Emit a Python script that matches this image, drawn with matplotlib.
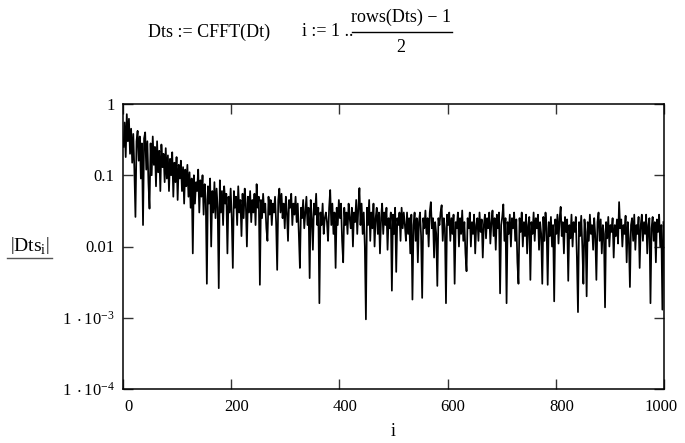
import numpy as np
import matplotlib.pyplot as plt
import matplotlib.transforms as mtransforms
from matplotlib.lines import Line2D

plt.rcParams['font.family'] = ['Liberation Serif', 'DejaVu Serif']
plt.rcParams['mathtext.fontset'] = 'custom'
plt.rcParams['mathtext.rm'] = 'Liberation Serif'
plt.rcParams['mathtext.it'] = 'Liberation Serif:italic'

# |Dts_i|, one value per odd i (1, 3, ..., 999)
idx = np.arange(1, 1000, 2)
dts_mag = [
    0.25, 0.55, 0.18, 0.72, 0.3, 0.62, 0.2, 0.45, 0.15, 0.38, 0.12, 0.026, 0.3, 0.42, 0.16, 0.35, 0.09, 0.28, 0.02, 0.33,
    0.4, 0.12, 0.3, 0.08, 0.034, 0.28, 0.1, 0.35, 0.14, 0.25, 0.07, 0.3, 0.11, 0.22, 0.06, 0.27, 0.13, 0.2, 0.08, 0.24,
    0.09, 0.19, 0.06, 0.17, 0.1, 0.21, 0.05, 0.15, 0.08, 0.18, 0.045, 0.14, 0.09, 0.16, 0.06, 0.13, 0.04, 0.12, 0.07, 0.14,
    0.05, 0.11, 0.035, 0.09, 0.008, 0.1, 0.04, 0.08, 0.06, 0.12, 0.03, 0.085, 0.05, 0.1, 0.028, 0.075, 0.045, 0.003, 0.07, 0.04,
    0.09, 0.01, 0.06, 0.03, 0.08, 0.025, 0.065, 0.035, 0.0026, 0.085, 0.03, 0.06, 0.02, 0.07, 0.04, 0.055, 0.008, 0.05, 0.03, 0.065,
    0.025, 0.005, 0.06, 0.035, 0.05, 0.02, 0.07, 0.03, 0.045, 0.014, 0.055, 0.025, 0.065, 0.04, 0.01, 0.05, 0.03, 0.06, 0.022, 0.045,
    0.03, 0.055, 0.02, 0.075, 0.035, 0.05, 0.0029, 0.045, 0.025, 0.055, 0.03, 0.04, 0.018, 0.012, 0.05, 0.028, 0.045, 0.02, 0.04, 0.03,
    0.05, 0.022, 0.0047, 0.045, 0.065, 0.03, 0.055, 0.025, 0.04, 0.018, 0.05, 0.03, 0.012, 0.045, 0.035, 0.055, 0.02, 0.04, 0.028, 0.05,
    0.022, 0.04, 0.015, 0.005, 0.035, 0.025, 0.045, 0.018, 0.03, 0.05, 0.02, 0.035, 0.0036, 0.045, 0.025, 0.009, 0.04, 0.028, 0.055, 0.02,
    0.035, 0.0016, 0.03, 0.02, 0.04, 0.015, 0.025, 0.03, 0.022, 0.012, 0.035, 0.062, 0.02, 0.04, 0.015, 0.03, 0.005, 0.035, 0.02, 0.045,
    0.025, 0.04, 0.012, 0.006, 0.035, 0.02, 0.03, 0.015, 0.04, 0.025, 0.018, 0.035, 0.01, 0.03, 0.022, 0.045, 0.015, 0.035, 0.066, 0.02,
    0.04, 0.015, 0.03, 0.01, 0.00095, 0.035, 0.02, 0.045, 0.012, 0.03, 0.018, 0.04, 0.01, 0.025, 0.035, 0.015, 0.03, 0.008, 0.025, 0.04,
    0.015, 0.03, 0.02, 0.035, 0.009, 0.025, 0.018, 0.03, 0.0024, 0.028, 0.015, 0.035, 0.0044, 0.025, 0.02, 0.03, 0.012, 0.035, 0.018, 0.03,
    0.02, 0.012, 0.03, 0.015, 0.025, 0.008, 0.028, 0.0018, 0.02, 0.03, 0.012, 0.025, 0.006, 0.022, 0.03, 0.014, 0.0019, 0.025, 0.018, 0.032,
    0.015, 0.025, 0.01, 0.03, 0.042, 0.018, 0.025, 0.007, 0.022, 0.015, 0.0028, 0.025, 0.02, 0.03, 0.038, 0.012, 0.025, 0.018, 0.0016, 0.028,
    0.02, 0.03, 0.012, 0.025, 0.015, 0.028, 0.003, 0.022, 0.018, 0.03, 0.01, 0.025, 0.015, 0.032, 0.012, 0.022, 0.008, 0.0045, 0.025, 0.018,
    0.03, 0.01, 0.022, 0.015, 0.028, 0.008, 0.02, 0.025, 0.012, 0.03, 0.016, 0.024, 0.007, 0.02, 0.028, 0.013, 0.025, 0.018, 0.03, 0.011,
    0.022, 0.032, 0.014, 0.025, 0.009, 0.028, 0.018, 0.03, 0.0022, 0.02, 0.026, 0.039, 0.012, 0.025, 0.0016, 0.022, 0.015, 0.028, 0.01, 0.025,
    0.018, 0.03, 0.012, 0.024, 0.006, 0.003, 0.025, 0.016, 0.03, 0.01, 0.022, 0.014, 0.028, 0.008, 0.02, 0.026, 0.0034, 0.022, 0.015, 0.03,
    0.012, 0.025, 0.018, 0.028, 0.009, 0.022, 0.015, 0.003, 0.026, 0.012, 0.03, 0.018, 0.0029, 0.022, 0.014, 0.026, 0.01, 0.02, 0.0017, 0.024,
    0.015, 0.028, 0.011, 0.025, 0.036, 0.014, 0.022, 0.008, 0.026, 0.016, 0.024, 0.0033, 0.02, 0.013, 0.028, 0.01, 0.022, 0.016, 0.026, 0.007,
    0.0012, 0.022, 0.014, 0.027, 0.01, 0.003, 0.024, 0.016, 0.002, 0.022, 0.012, 0.028, 0.015, 0.02, 0.009, 0.025, 0.014, 0.0034, 0.022, 0.03,
    0.012, 0.024, 0.008, 0.02, 0.015, 0.0014, 0.022, 0.013, 0.026, 0.01, 0.02, 0.016, 0.025, 0.007, 0.02, 0.014, 0.024, 0.011, 0.042, 0.018,
    0.024, 0.01, 0.02, 0.015, 0.027, 0.006, 0.022, 0.013, 0.0027, 0.02, 0.025, 0.012, 0.028, 0.009, 0.02, 0.015, 0.026, 0.005, 0.02, 0.028,
    0.012, 0.022, 0.015, 0.028, 0.008, 0.02, 0.025, 0.0016, 0.018, 0.026, 0.012, 0.022, 0.006, 0.024, 0.016, 0.028, 0.01, 0.02, 0.0013, 0.022,
]

x_ticks = [0, 200, 400, 600, 800, 1000]
y_ticks = [1e-4, 1e-3, 1e-2, 1e-1, 1]
y_labels = [r'$\mathregular{1\ \cdot 10^{-4}}$', r'$\mathregular{1\ \cdot 10^{-3}}$', '0.01', '0.1', '1']

fig = plt.figure(figsize=(6.85, 4.43), dpi=100)
ax = fig.add_axes([123 / 685, 1 - 389 / 443, (664 - 123) / 685, (389 - 104) / 443])

ax.plot(idx, dts_mag, color='black', lw=1.25)
ax.set_yscale('log')
ax.set_xlim(0, 1000)
ax.set_ylim(1e-4, 1)

ax.set_xticks(x_ticks)
ax.set_xticklabels([str(t) for t in x_ticks])
ax.set_yticks(y_ticks)
ax.set_yticklabels(y_labels)
ax.yaxis.set_minor_locator(plt.NullLocator())
ax.tick_params(direction='in', length=7.5, width=1.0, color='#333333',
               top=True, right=True, labelsize=12, pad=6)
ax.tick_params(axis='x', pad=7)

# Mathcad puts the x labels a few pixels right of the tick
for lab, t in zip(ax.get_xticklabels(), x_ticks):
    dx = 4 / 72 if t < 1000 else -2 / 72
    lab.set_transform(lab.get_transform() + mtransforms.ScaledTranslation(dx, 0, fig.dpi_scale_trans))

for s in ax.spines.values():
    s.set_linewidth(1.1)

fig.text(393 / 685, 1 - 431 / 443, 'i', fontsize=13, ha='center', va='center')

# y label with the Mathcad underline
fig.text(30 / 685, 1 - 246 / 443, r'$\left|\mathrm{Dts}_{\mathrm{i}}\right|$', fontsize=14, ha='center', va='center')
fig.add_artist(Line2D([7 / 685, 52 / 685], [1 - 258 / 443, 1 - 258 / 443], color='#555555', lw=1.0))

# formula line above the plot
fig.text(148 / 685, 1 - 32 / 443, 'Dts := CFFT(Dt)', fontsize=13, ha='left', va='center')
fig.text(302 / 685, 1 - 32 / 443, 'i := 1 ..', fontsize=13, ha='left', va='center')
fig.text(401 / 685, 1 - 17 / 443, 'rows(Dts) \u2212 1', fontsize=13, ha='center', va='center')
fig.add_artist(Line2D([352 / 685, 452 / 685], [1 - 32 / 443, 1 - 32 / 443], color='black', lw=1.0))
fig.text(401 / 685, 1 - 48 / 443, '2', fontsize=13, ha='center', va='center')

fig.savefig('out.png', dpi=100)
